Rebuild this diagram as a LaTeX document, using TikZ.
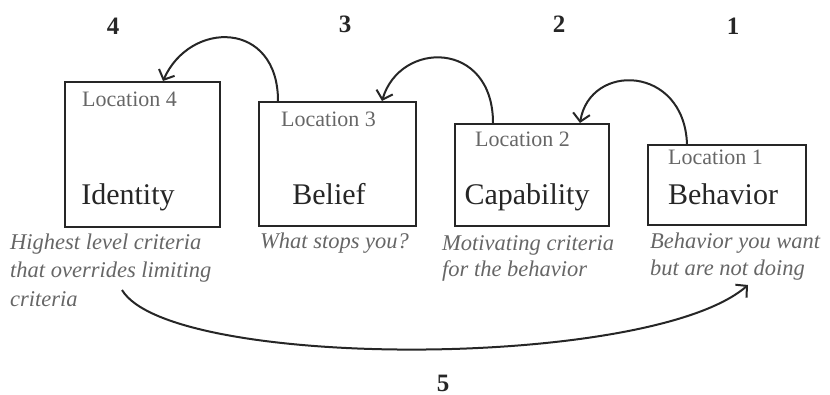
\documentclass[tikz,border=0pt]{standalone}
\usepackage{fontspec}
\setmainfont{Liberation Serif}
\usetikzlibrary{arrows.meta,calc}
\begin{document}
\begin{tikzpicture}[x=1pt,y=-1pt,
  boxnode/.style={draw=black!85, line width=2pt, anchor=north west, inner sep=0pt},
  loclabel/.style={anchor=base west, inner sep=0pt, text=black!60, font=\fontsize{22}{26}\selectfont},
  mainword/.style={anchor=base, inner sep=0pt, text=black!85, font=\fontsize{30}{36}\selectfont},
  desc/.style={anchor=base west, inner sep=0pt, align=left, text=black!60, font=\fontsize{22.5}{#1}\selectfont\itshape},
  num/.style={anchor=base, inner sep=0pt, text=black!85, font=\fontsize{25}{30}\selectfont\bfseries},
  conn/.style={draw=black!85, line width=2pt, -{Straight Barb[length=8pt,width=17pt,line width=2pt]}}
]
\useasboundingbox (0,0) rectangle (830,395);
% boxes
\node[boxnode, minimum width=155pt, minimum height=145pt] (b4) at (64,81) {};
\node[boxnode, minimum width=157pt, minimum height=124pt] (b3) at (258,101) {};
\node[boxnode, minimum width=154pt, minimum height=102pt] (b2) at (454,123) {};
\node[boxnode, minimum width=158pt, minimum height=80pt] (b1) at (647,144) {};
% location labels
\node[loclabel] (l4) at ($(b4.north west)+(18,26)$) {Location 4};
\node[loclabel] (l3) at ($(b3.north west)+(23,26)$) {Location 3};
\node[loclabel] (l2) at ($(b2.north west)+(21,24)$) {Location 2};
\node[loclabel] (l1) at ($(b1.north west)+(21,21)$) {Location 1};
% main words
\node[mainword] (w4) at (128,205) {Identity};
\node[mainword] (w3) at (329,205) {Belief};
\node[mainword] (w2) at (527,205) {Capability};
\node[mainword] (w1) at (723,205) {Behavior};
% descriptions (base anchor = baseline of last line)
\node[desc=29] (d4) at (10,307) {Highest level criteria\\that overrides limiting\\criteria};
\node[desc=27] (d3) at (260,249) {What stops you?};
\node[desc=26] (d2) at (442,277) {Motivating criteria\\for the behavior};
\node[desc=27] (d1) at (650,276) {Behavior you want\\but are not doing};
% numbers
\node[num] (n4) at (113,35) {4};
\node[num] (n3) at (345,33) {3};
\node[num] (n2) at (559,33) {2};
\node[num] (n1) at (733,35) {1};
\node[num] (n5) at (443,391) {5};
% connectors
\draw[conn] ([xshift=20pt]b3.north west) .. controls +(0,-81) and +(27,-61) .. ([xshift=99pt]b4.north west);
\draw[conn] ([xshift=39pt]b2.north west) .. controls +(0,-83) and +(18,-61) .. ([xshift=124pt]b3.north west);
\draw[conn] ([xshift=40pt]b1.north west) .. controls +(-3,-79) and +(10,-61) .. ([xshift=126pt]b2.north west);
\coordinate (s5) at (122,290);
\coordinate (e5) at (748,285);
\draw[conn] (s5) .. controls (170,370) and (650,370) .. (e5);
\end{tikzpicture}
\end{document}
